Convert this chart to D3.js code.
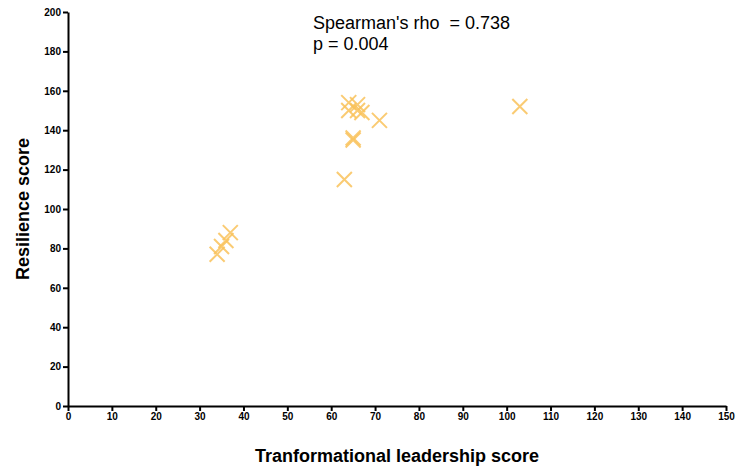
<!DOCTYPE html>
<html>
<head>
<meta charset="UTF-8">
<title>Resilience vs transformational leadership</title>
<script src="https://d3js.org/d3.v7.min.js"></script>
<style>
  body { margin: 0; background: #fff; }
  text { font-family: "Liberation Sans", Arial, sans-serif; }
</style>
</head>
<body>
<div id="chart"></div>
<script>
// data
var leadership = [34, 35, 36, 37, 63, 64, 64, 66, 66, 67, 65, 65, 71, 103];
var resilience = [77, 81, 84, 88, 115, 154, 150, 153, 150, 149, 135, 136, 145, 152];
var xTicks = d3.range(0, 151, 10);
var yTicks = d3.range(0, 201, 20);
var statLines = ["Spearman's rho  = 0.738", "p = 0.004"];

var W = 750, H = 471;
var margin = {top: 12, right: 24, bottom: 65, left: 68};

var svg = d3.select("#chart").append("svg")
    .attr("width", W).attr("height", H);

var x = d3.scaleLinear().domain([0, 150]).range([margin.left, W - margin.right]);
var y = d3.scaleLinear().domain([0, 200]).range([H - margin.bottom, margin.top]);

// axes
var xAxis = svg.append("g")
    .attr("transform", "translate(0," + y(0) + ")")
    .call(d3.axisBottom(x).tickValues(xTicks).tickSize(5).tickPadding(2).tickSizeOuter(0));
var yAxis = svg.append("g")
    .attr("transform", "translate(" + x(0) + ",0)")
    .call(d3.axisLeft(y).tickValues(yTicks).tickSize(5).tickPadding(2).tickSizeOuter(0));

[xAxis, yAxis].forEach(function(g) {
  g.select(".domain").attr("stroke", "#000").attr("stroke-width", 2);
  g.selectAll(".tick line").attr("stroke", "#000").attr("stroke-width", 2);
  g.selectAll(".tick text")
    .attr("fill", "#000")
    .style("font-size", "10px")
    .style("font-weight", "bold")
    .style("font-family", "'Liberation Sans', Arial, sans-serif");
});

// axis titles
svg.append("text")
    .attr("x", (x(0) + x(150)) / 2)
    .attr("y", 462)
    .attr("text-anchor", "middle")
    .style("font-size", "18px")
    .style("font-weight", "bold")
    .text("Tranformational leadership score");

svg.append("text")
    .attr("transform", "translate(29," + ((y(0) + y(200)) / 2) + ") rotate(-90)")
    .attr("text-anchor", "middle")
    .style("font-size", "18px")
    .style("font-weight", "bold")
    .text("Resilience score");

// cross markers
var pts = leadership.map(function(d, i) { return {x: d, y: resilience[i]}; });
var arm = 7.5;
var marks = svg.append("g")
    .attr("stroke", "#f9c25a")
    .attr("stroke-width", 2)
    .attr("stroke-opacity", 0.85);
marks.selectAll("path")
    .data(pts)
    .enter().append("path")
    .attr("d", function(d) {
      var cx = x(d.x), cy = y(d.y);
      return "M" + (cx - arm) + "," + (cy - arm) + "L" + (cx + arm) + "," + (cy + arm) +
             "M" + (cx - arm) + "," + (cy + arm) + "L" + (cx + arm) + "," + (cy - arm);
    });

// stats annotation
svg.selectAll("text.stat")
    .data(statLines)
    .enter().append("text")
    .attr("class", "stat")
    .attr("x", 313)
    .attr("y", function(d, i) { return 29 + i * 21; })
    .style("font-size", "18px")
    .style("white-space", "pre")
    .attr("xml:space", "preserve")
    .text(function(d) { return d; });
</script>
</body>
</html>
